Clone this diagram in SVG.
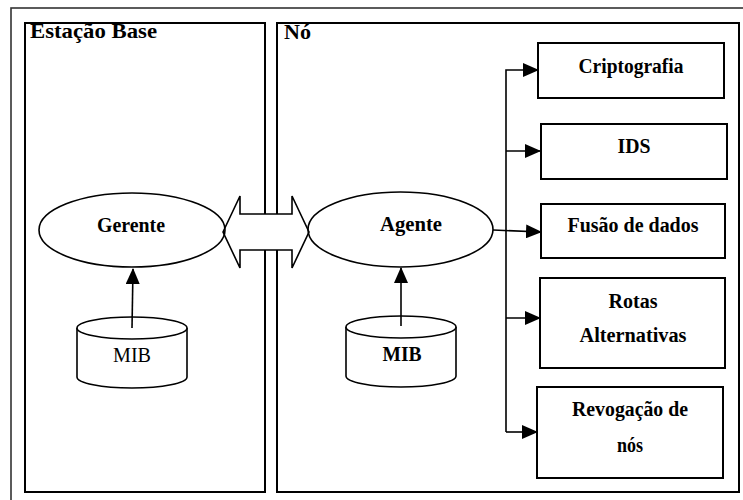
<svg xmlns="http://www.w3.org/2000/svg" width="743" height="500" viewBox="0 0 743 500">
<style>
.frame{fill:none;stroke:#000;stroke-width:2}
.box{fill:#fff;stroke:#000;stroke-width:2}
.ell{fill:none;stroke:#000;stroke-width:1.6}
.cyl{fill:#fff;stroke:#000;stroke-width:1.6}
text{font-family:'Liberation Serif','Times New Roman','DejaVu Serif',serif;font-weight:bold;fill:#000}
.t{font-size:20px;text-anchor:middle}
.title{font-size:22px}
.conn{fill:none;stroke:#000;stroke-width:1.6}
</style>
<defs>
<marker id="ah" markerUnits="userSpaceOnUse" markerWidth="16" markerHeight="14" refX="15" refY="7" orient="auto">
<path d="M0,0 L16,7 L0,14 Z" fill="#000"/>
</marker>
</defs>
<rect width="743" height="500" fill="#fff"/>
<rect x="11" y="8" width="745" height="505" fill="none" stroke="#333" stroke-width="1.6"/>
<g id="estacao-base">
<rect class="frame" x="25" y="23" width="240" height="469"/>
<text class="title" font-family="Liberation Serif, serif" x="30" y="38" textLength="127" lengthAdjust="spacingAndGlyphs">Estação Base</text>
</g>
<g id="no">
<rect class="frame" x="277" y="23" width="462" height="469"/>
<text class="title" font-family="Liberation Serif, serif" x="284" y="39" textLength="27" lengthAdjust="spacingAndGlyphs">Nó</text>
</g>
<g id="link">
<path d="M223,232 L240,196 L240,214 L292,214 L292,196 L309,232 L292,268 L292,250 L240,250 L240,268 Z" fill="#fff" stroke="#000" stroke-width="1.6"/>
</g>
<g id="gerente">
<ellipse class="ell" cx="132" cy="230" rx="93" ry="37"/>
<text class="t" font-family="Liberation Serif, serif" x="131" y="232" textLength="68" lengthAdjust="spacingAndGlyphs">Gerente</text>
</g>
<g id="agente">
<ellipse class="ell" cx="400.5" cy="229.5" rx="92.5" ry="37.5"/>
<text class="t" font-family="Liberation Serif, serif" x="411" y="231" textLength="62" lengthAdjust="spacingAndGlyphs">Agente</text>
</g>
<g id="mib-base">
<path class="cyl" d="M77,328 L77,377 A55,11 0 0 0 187,377 L187,328"/>
<ellipse class="cyl" cx="132" cy="328" rx="55" ry="11"/>
<text class="t" font-family="Liberation Serif, serif" x="132" y="362" style="font-weight:normal" textLength="38" lengthAdjust="spacingAndGlyphs">MIB</text>
</g>
<g id="mib-no">
<path class="cyl" d="M346,327 L346,376 A55,11 0 0 0 456,376 L456,327"/>
<ellipse class="cyl" cx="401" cy="327" rx="55" ry="11"/>
<text class="t" font-family="Liberation Serif, serif" x="402" y="361" textLength="39" lengthAdjust="spacingAndGlyphs">MIB</text>
</g>
<g id="criptografia">
<rect class="box" x="538" y="43" width="186" height="55"/>
<text class="t" font-family="Liberation Serif, serif" x="631" y="73" textLength="105" lengthAdjust="spacingAndGlyphs">Criptografia</text>
</g>
<g id="ids">
<rect class="box" x="541" y="124" width="186" height="55"/>
<text class="t" font-family="Liberation Serif, serif" x="634" y="153" textLength="33" lengthAdjust="spacingAndGlyphs">IDS</text>
</g>
<g id="fusao">
<rect class="box" x="541" y="204" width="184" height="54"/>
<text class="t" font-family="Liberation Serif, serif" x="633" y="232" textLength="131" lengthAdjust="spacingAndGlyphs">Fusão de dados</text>
</g>
<g id="rotas">
<rect class="box" x="540" y="278" width="185" height="90"/>
<text class="t" font-family="Liberation Serif, serif" x="633" y="308" textLength="49" lengthAdjust="spacingAndGlyphs">Rotas</text>
<text class="t" font-family="Liberation Serif, serif" x="633" y="342" textLength="107" lengthAdjust="spacingAndGlyphs">Alternativas</text>
</g>
<g id="revogacao">
<rect class="box" x="537" y="387" width="186" height="91"/>
<text class="t" font-family="Liberation Serif, serif" x="630" y="416" textLength="116" lengthAdjust="spacingAndGlyphs">Revogação de</text>
<text class="t" font-family="Liberation Serif, serif" x="630" y="452" textLength="26" lengthAdjust="spacingAndGlyphs">nós</text>
</g>
<g id="connectors">
<line class="conn" x1="132" y1="328" x2="133" y2="269" marker-end="url(#ah)"/>
<line class="conn" x1="401" y1="326" x2="401" y2="268" marker-end="url(#ah)"/>
<polyline class="conn" points="506,432 506,70 538,70" marker-end="url(#ah)"/>
<line class="conn" x1="506" y1="151" x2="540" y2="151" marker-end="url(#ah)"/>
<line class="conn" x1="493" y1="230" x2="541" y2="232" marker-end="url(#ah)"/>
<line class="conn" x1="506" y1="318" x2="540" y2="318" marker-end="url(#ah)"/>
<line class="conn" x1="506" y1="432" x2="537" y2="432" marker-end="url(#ah)"/>
</g>
</svg>
